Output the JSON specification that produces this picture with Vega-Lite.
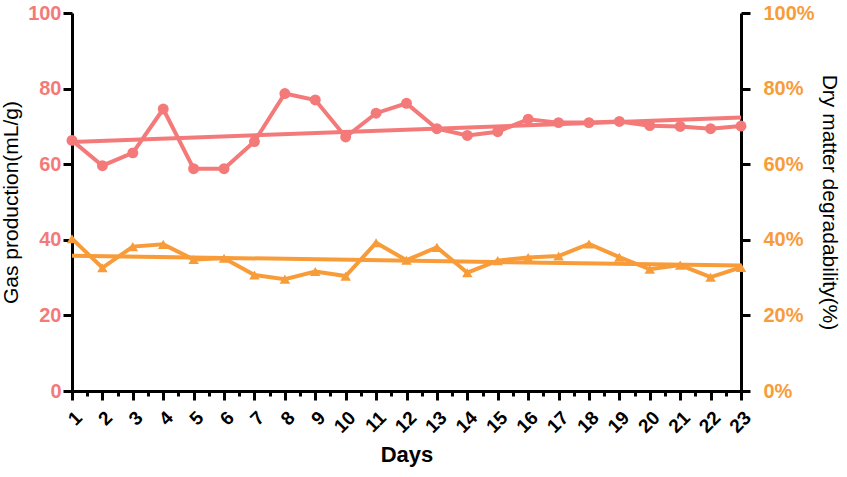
{
  "$schema": "https://vega.github.io/schema/vega-lite/v6.json",
  "autosize": "none",
  "width": 669,
  "height": 378,
  "padding": {"left": 72, "top": 13, "right": 106, "bottom": 86},
  "background": "white",
  "config": {
    "view": {"stroke": null},
    "font": "Liberation Sans",
    "axis": {
      "domainColor": "black",
      "domainWidth": 3,
      "tickColor": "black",
      "tickWidth": 3,
      "tickSize": 9,
      "grid": false,
      "labelFont": "Liberation Sans",
      "labelFontWeight": "bold",
      "titleFont": "Liberation Sans",
      "titleColor": "black"
    }
  },
  "data": {
    "values": [
      {"day": 1, "gas": 66.3, "dm": 40.3},
      {"day": 2, "gas": 59.6, "dm": 32.6},
      {"day": 3, "gas": 63.0, "dm": 38.2},
      {"day": 4, "gas": 74.6, "dm": 38.8},
      {"day": 5, "gas": 58.8, "dm": 34.8},
      {"day": 6, "gas": 58.8, "dm": 35.1},
      {"day": 7, "gas": 66.0, "dm": 30.7},
      {"day": 8, "gas": 78.7, "dm": 29.6},
      {"day": 9, "gas": 77.0, "dm": 31.6},
      {"day": 10, "gas": 67.2, "dm": 30.4},
      {"day": 11, "gas": 73.5, "dm": 39.2},
      {"day": 12, "gas": 76.1, "dm": 34.6},
      {"day": 13, "gas": 69.4, "dm": 38.0},
      {"day": 14, "gas": 67.6, "dm": 31.3},
      {"day": 15, "gas": 68.6, "dm": 34.5},
      {"day": 16, "gas": 71.9, "dm": 35.3},
      {"day": 17, "gas": 71.0, "dm": 35.7},
      {"day": 18, "gas": 71.0, "dm": 38.9},
      {"day": 19, "gas": 71.3, "dm": 35.4},
      {"day": 20, "gas": 70.2, "dm": 32.2},
      {"day": 21, "gas": 70.0, "dm": 33.3},
      {"day": 22, "gas": 69.4, "dm": 30.1},
      {"day": 23, "gas": 70.1, "dm": 32.7}
    ]
  },
  "encoding": {
    "x": {
      "field": "day",
      "type": "quantitative",
      "scale": {"domain": [1, 23], "nice": false, "zero": false},
      "axis": {
        "title": "Days",
        "titleFontSize": 22,
        "titleFontWeight": "bold",
        "titlePadding": 8,
        "values": [1,1.5,2,2.5,3,3.5,4,4.5,5,5.5,6,6.5,7,7.5,8,8.5,9,9.5,10,10.5,11,11.5,12,12.5,13,13.5,14,14.5,15,15.5,16,16.5,17,17.5,18,18.5,19,19.5,20,20.5,21,21.5,22,22.5,23],
        "labelExpr": "datum.value % 1 === 0 ? format(datum.value, 'd') : ''",
        "labelOverlap": false,
        "labelAngle": -45,
        "labelFontSize": 19,
        "labelColor": "black",
        "labelPadding": 8,
        "tickSize": {"condition": {"test": "datum.value % 1 === 0", "value": 9}, "value": 5}
      }
    }
  },
  "layer": [
    {
      "encoding": {
        "y": {
          "field": "gas",
          "type": "quantitative",
          "scale": {"domain": [0, 100], "nice": false},
          "axis": {
            "orient": "left",
            "title": "Gas production(mL/g)",
            "titleFontSize": 21,
            "titleFontWeight": "normal",
            "titlePadding": 6,
            "values": [0, 20, 40, 60, 80, 100],
            "labelFontSize": 20,
            "labelColor": "#F47A7A",
            "labelPadding": 2
          }
        }
      },
      "layer": [
        {
          "transform": [{"regression": "gas", "on": "day"}],
          "mark": {"type": "line", "color": "#F47A7A", "strokeWidth": 4}
        },
        {
          "mark": {"type": "line", "color": "#F47A7A", "strokeWidth": 4}
        },
        {
          "mark": {"type": "point", "shape": "circle", "filled": true, "opacity": 1, "color": "#F47A7A", "size": 120}
        }
      ]
    },
    {
      "encoding": {
        "y": {
          "field": "dm",
          "type": "quantitative",
          "scale": {"domain": [0, 100], "nice": false},
          "axis": {
            "orient": "right",
            "title": "Dry matter degradability(%)",
            "titleFontSize": 21,
            "titleFontWeight": "normal",
            "titlePadding": 4,
            "values": [0, 20, 40, 60, 80, 100],
            "labelExpr": "datum.label + '%'",
            "labelFontSize": 20,
            "labelColor": "#F89C3A",
            "labelPadding": 13
          }
        }
      },
      "layer": [
        {
          "transform": [{"regression": "dm", "on": "day"}],
          "mark": {"type": "line", "color": "#F89C3A", "strokeWidth": 4}
        },
        {
          "mark": {"type": "line", "color": "#F89C3A", "strokeWidth": 4}
        },
        {
          "mark": {"type": "point", "shape": "triangle-up", "filled": true, "opacity": 1, "color": "#F89C3A", "size": 110}
        }
      ]
    }
  ],
  "resolve": {"scale": {"y": "independent"}}
}
